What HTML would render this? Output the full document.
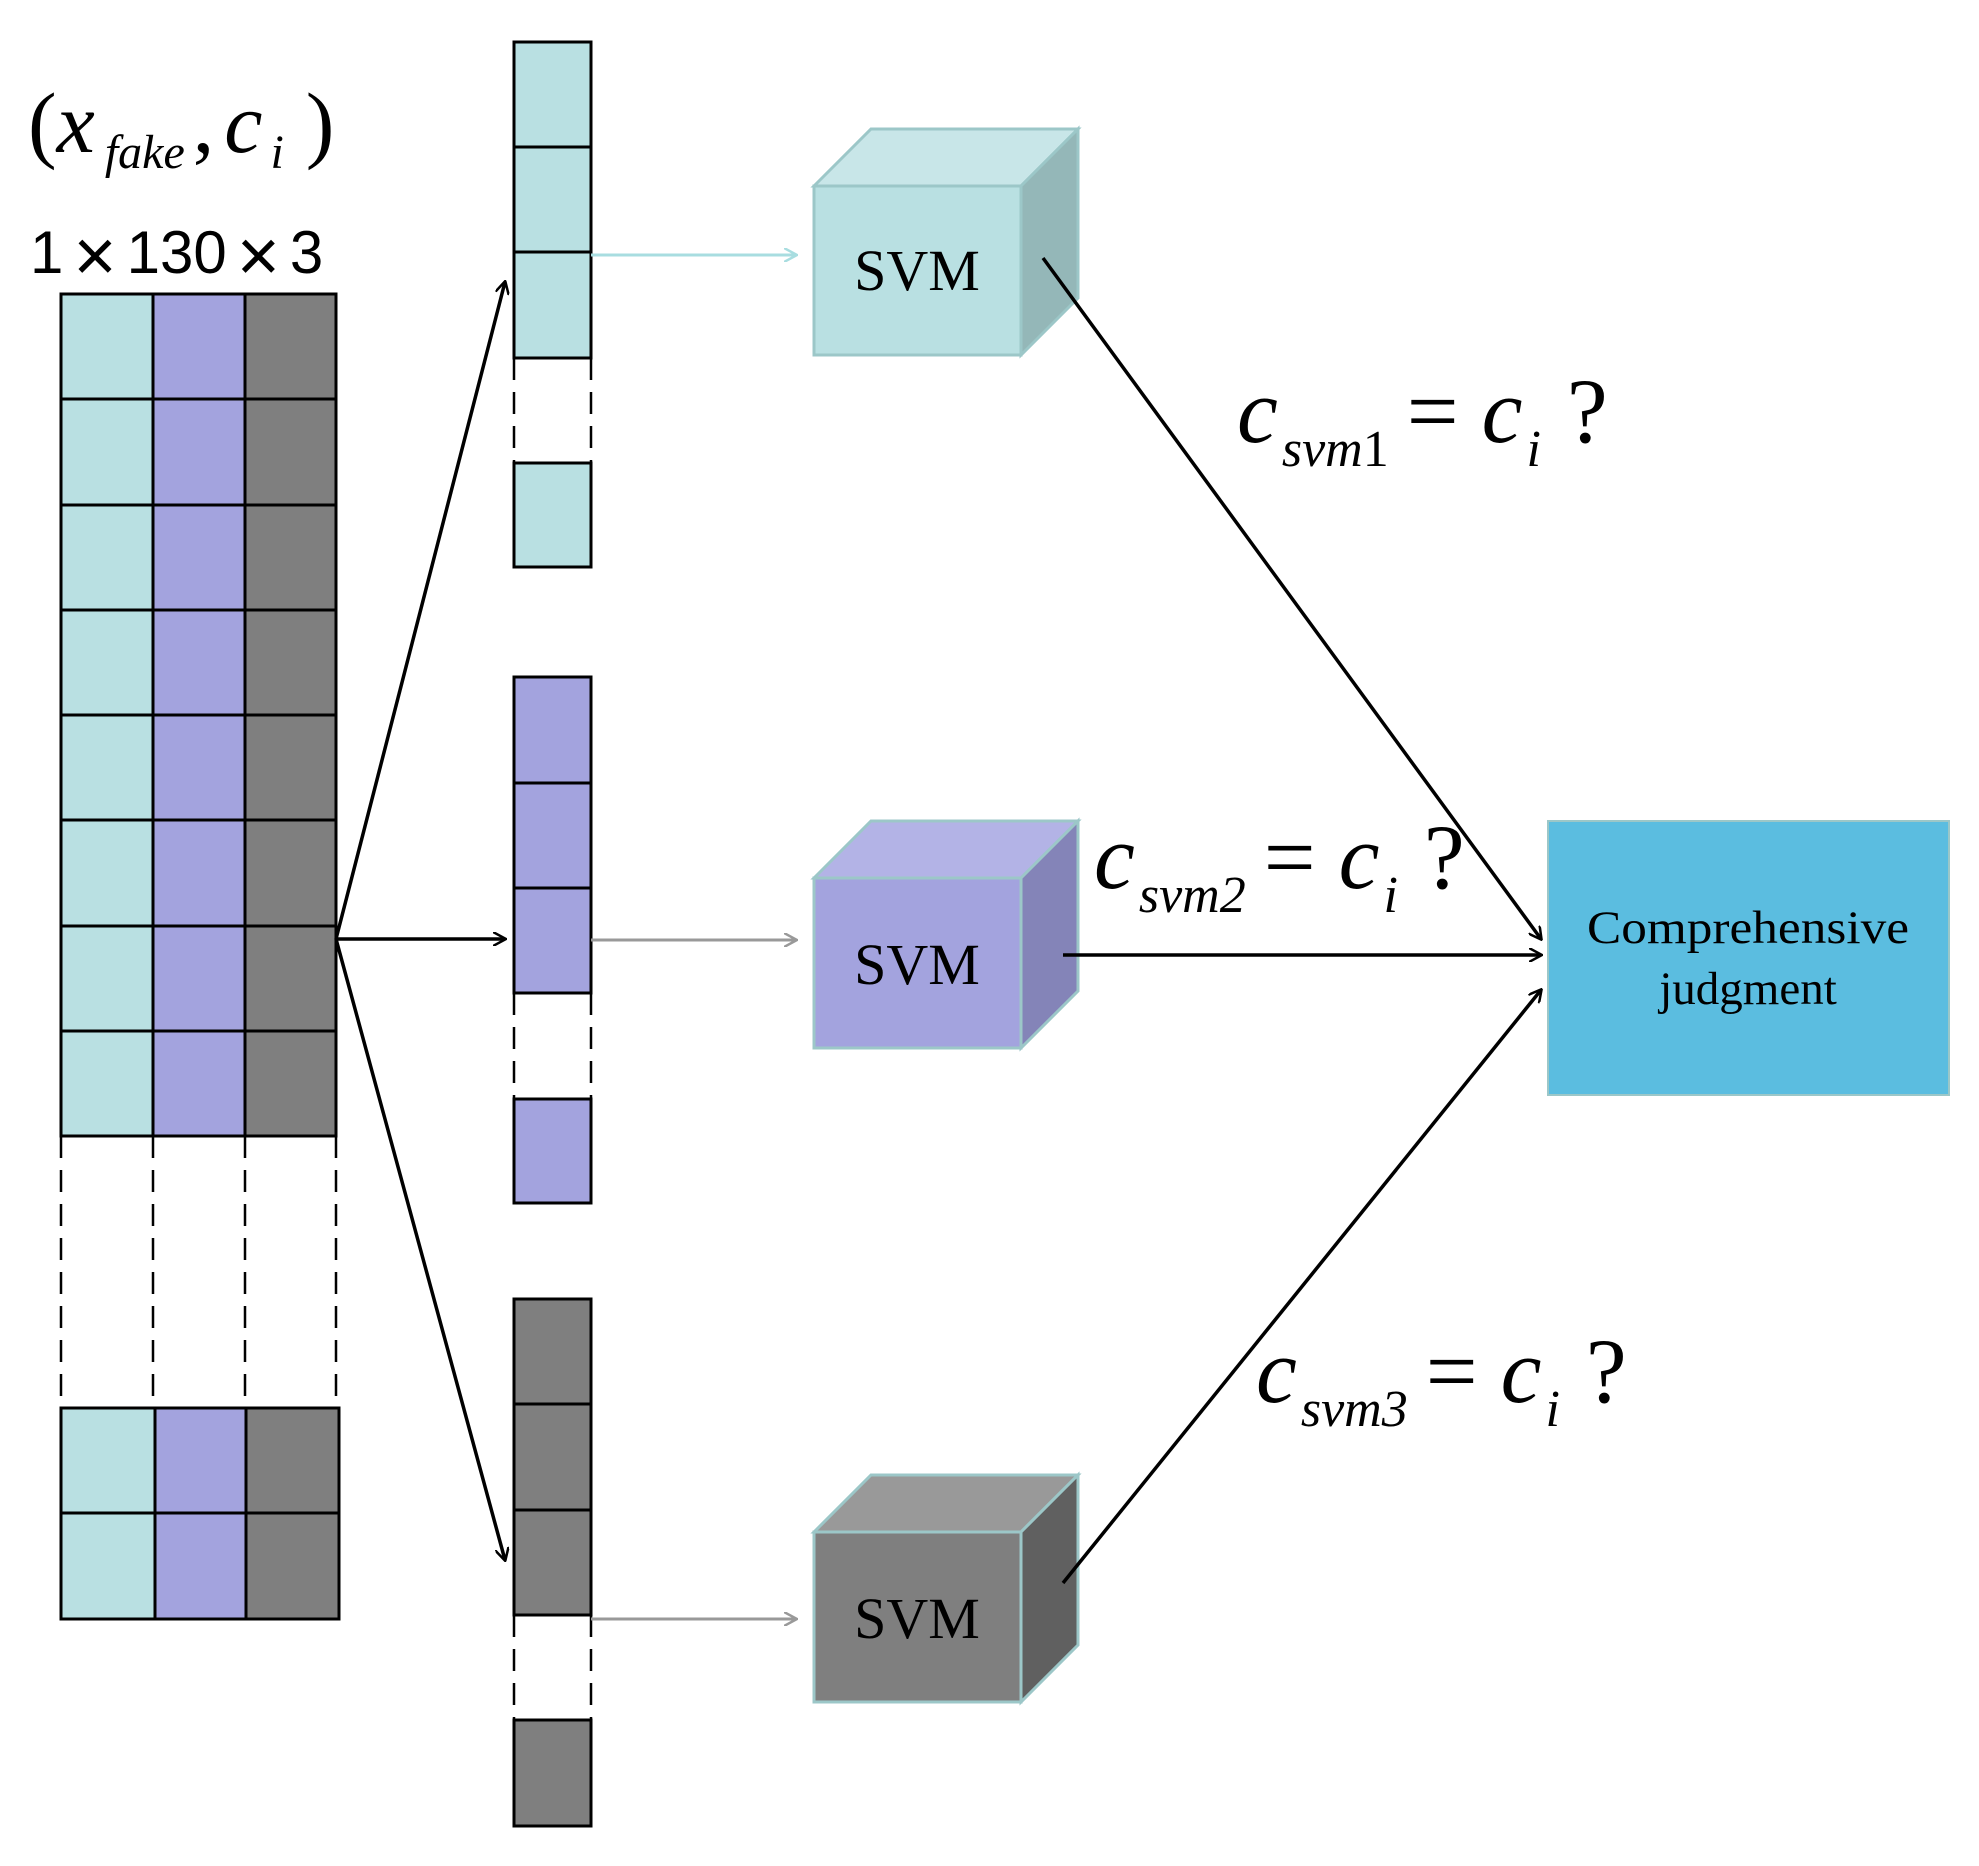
<!DOCTYPE html>
<html><head><meta charset="utf-8"><style>
html,body{margin:0;padding:0;background:#fff;}
svg{display:block;}
text{font-family:"Liberation Serif",serif;}
</style></head><body>
<svg width="1979" height="1866" viewBox="0 0 1979 1866" xmlns="http://www.w3.org/2000/svg">
<defs>
<marker id="ab" markerWidth="14" markerHeight="14" refX="12" refY="7" orient="auto" markerUnits="userSpaceOnUse"><path d="M0,0 L13,7 L0,14" fill="none" stroke="#000" stroke-width="2.5"/></marker>
<marker id="ag" markerWidth="14" markerHeight="14" refX="12" refY="7" orient="auto" markerUnits="userSpaceOnUse"><path d="M0,0 L13,7 L0,14" fill="none" stroke="#999" stroke-width="2.5"/></marker>
<marker id="at" markerWidth="14" markerHeight="14" refX="12" refY="7" orient="auto" markerUnits="userSpaceOnUse"><path d="M0,0 L13,7 L0,14" fill="none" stroke="#a8dde0" stroke-width="2.5"/></marker>
</defs>

<text x="28" y="152" font-size="86">(<tspan font-style="italic">x</tspan><tspan font-style="italic" font-size="48" dy="16" dx="10">fake</tspan><tspan dy="-16" dx="8">,</tspan><tspan font-style="italic" dx="10">c</tspan><tspan font-style="italic" font-size="48" dy="16" dx="8">i</tspan><tspan dy="-16" dx="22">)</tspan></text>
<text x="30" y="273" font-size="60" style="font-family:'Liberation Sans',sans-serif"><tspan>1</tspan><tspan font-size="74" dx="10" dy="8">×</tspan><tspan dx="10" dy="-8">130</tspan><tspan font-size="74" dx="10" dy="8">×</tspan><tspan dx="10" dy="-8">3</tspan></text>

<g stroke="#000" stroke-width="3">
<rect x="61" y="294" width="92" height="842" fill="#b9e0e2"/>
<rect x="153" y="294" width="92" height="842" fill="#a3a3de"/>
<rect x="245" y="294" width="91" height="842" fill="#7f7f7f"/>
<path d="M61,399H336M61,505H336M61,610H336M61,715H336M61,820H336M61,926H336M61,1031H336"/>
</g>
<g stroke="#000" stroke-width="2.5" stroke-dasharray="22,12">
<path d="M61,1136V1408M153,1136V1408M245,1136V1408M336,1136V1408"/>
</g>
<g stroke="#000" stroke-width="3">
<rect x="61" y="1408" width="94" height="211" fill="#b9e0e2"/>
<rect x="155" y="1408" width="91" height="211" fill="#a3a3de"/>
<rect x="246" y="1408" width="93" height="211" fill="#7f7f7f"/>
<path d="M61,1513H339"/>
</g>

<g stroke="#000" stroke-width="3">
<rect x="514" y="42" width="77" height="316" fill="#b9e0e2"/>
<path d="M514,147H591M514,252H591"/>
<rect x="514" y="463" width="77" height="104" fill="#b9e0e2"/>
<rect x="514" y="677" width="77" height="316" fill="#a3a3de"/>
<path d="M514,783H591M514,888H591"/>
<rect x="514" y="1099" width="77" height="104" fill="#a3a3de"/>
<rect x="514" y="1299" width="77" height="316" fill="#7f7f7f"/>
<path d="M514,1404H591M514,1510H591"/>
<rect x="514" y="1720" width="77" height="106" fill="#7f7f7f"/>
</g>
<g stroke="#000" stroke-width="2.5" stroke-dasharray="22,12">
<path d="M514,358V463M591,358V463M514,993V1099M591,993V1099M514,1615V1720M591,1615V1720"/>
</g>

<g stroke="#000" stroke-width="3.5" fill="none">
<line x1="336" y1="939" x2="505" y2="282" marker-end="url(#ab)"/>
<line x1="336" y1="939" x2="505" y2="939" marker-end="url(#ab)"/>
<line x1="336" y1="939" x2="505" y2="1560" marker-end="url(#ab)"/>
</g>
<line x1="591" y1="255" x2="796" y2="255" stroke="#a8dde0" stroke-width="3" marker-end="url(#at)"/>
<line x1="591" y1="940" x2="796" y2="940" stroke="#999" stroke-width="3" marker-end="url(#ag)"/>
<line x1="591" y1="1619" x2="796" y2="1619" stroke="#999" stroke-width="3" marker-end="url(#ag)"/>

<g stroke="#9cc7c8" stroke-width="3">
<polygon points="814,186 871,129 1078,129 1021,186" fill="#c8e6e8"/>
<polygon points="1021,186 1078,129 1078,298 1021,355" fill="#94b7b8"/>
<rect x="814" y="186" width="207" height="169" fill="#b9e0e2"/>
</g>
<g stroke="#9cc7c8" stroke-width="3">
<polygon points="814,878 871,821 1078,821 1021,878" fill="#b3b3e6"/>
<polygon points="1021,878 1078,821 1078,991 1021,1048" fill="#8484b8"/>
<rect x="814" y="878" width="207" height="170" fill="#a3a3de"/>
</g>
<g stroke="#9cc7c8" stroke-width="3">
<polygon points="814,1532 871,1475 1078,1475 1021,1532" fill="#999999"/>
<polygon points="1021,1532 1078,1475 1078,1645 1021,1702" fill="#606060"/>
<rect x="814" y="1532" width="207" height="170" fill="#7f7f7f"/>
</g>
<text x="917" y="290" font-size="58" text-anchor="middle">SVM</text>
<text x="917" y="984" font-size="58" text-anchor="middle">SVM</text>
<text x="917" y="1638" font-size="58" text-anchor="middle">SVM</text>

<rect x="1548" y="821" width="401" height="274" fill="#5bbde0" stroke="#9cc7c8" stroke-width="2"/>
<text x="1748" y="943" font-size="47" text-anchor="middle" textLength="322" lengthAdjust="spacingAndGlyphs">Comprehensive</text>
<text x="1748" y="1004" font-size="47" text-anchor="middle">judgment</text>

<g stroke="#000" stroke-width="3.5" fill="none">
<line x1="1043" y1="258" x2="1541" y2="939" marker-end="url(#ab)"/>
<line x1="1063" y1="955" x2="1541" y2="955" marker-end="url(#ab)"/>
<line x1="1063" y1="1583" x2="1541" y2="990" marker-end="url(#ab)"/>
</g>

<text x="1237" y="442" font-size="92"><tspan font-style="italic">c</tspan><tspan font-size="52" dy="24" dx="4"><tspan font-style="italic">svm</tspan>1</tspan><tspan dy="-24" dx="18">= </tspan><tspan font-style="italic">c</tspan><tspan font-style="italic" font-size="52" dy="24" dx="4">i</tspan><tspan dy="-24" dx="26">?</tspan></text>
<text x="1094" y="888" font-size="92"><tspan font-style="italic">c</tspan><tspan font-size="52" dy="24" dx="4" font-style="italic">svm2</tspan><tspan dy="-24" dx="18">= </tspan><tspan font-style="italic">c</tspan><tspan font-style="italic" font-size="52" dy="24" dx="4">i</tspan><tspan dy="-24" dx="26">?</tspan></text>
<text x="1256" y="1402" font-size="92"><tspan font-style="italic">c</tspan><tspan font-size="52" dy="24" dx="4" font-style="italic">svm3</tspan><tspan dy="-24" dx="18">= </tspan><tspan font-style="italic">c</tspan><tspan font-style="italic" font-size="52" dy="24" dx="4">i</tspan><tspan dy="-24" dx="26">?</tspan></text>
</svg>
</body></html>
